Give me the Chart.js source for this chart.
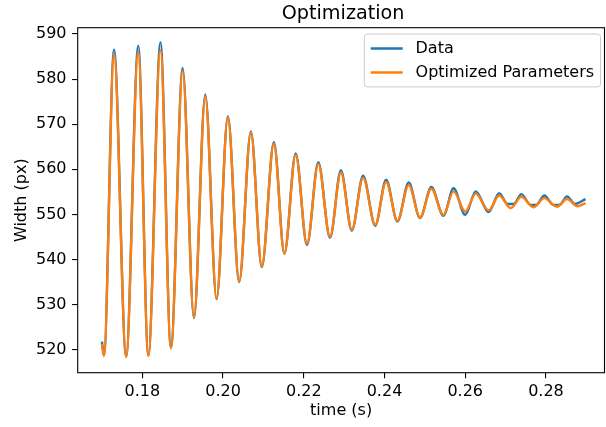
<!DOCTYPE html>
<html>
<head>
<meta charset="utf-8">
<title>Optimization</title>
<script src="https://cdn.jsdelivr.net/npm/chart.js@4.4.0/dist/chart.umd.min.js"></script>
<style>
  body { margin: 0; background: #fff; }
  canvas { display: block; }
</style>
</head>
<body>
<canvas id="optChart" width="606" height="427"></canvas>
<script>
const dataTime = [
  0.1700, 0.1705, 0.1730, 0.1760, 0.1790, 0.1815, 0.1845, 0.1871, 0.1900, 0.1928,
  0.1956, 0.1984, 0.2012, 0.2040, 0.2069, 0.2096, 0.2126, 0.2152, 0.2180, 0.2208,
  0.2236, 0.2265, 0.2292, 0.2319, 0.2347, 0.2377, 0.2404, 0.2432, 0.2460, 0.2488,
  0.2516, 0.2546, 0.2571, 0.2600, 0.2626, 0.2658, 0.2684, 0.2705, 0.2720, 0.2739,
  0.2762, 0.2776, 0.2796, 0.2818, 0.2834, 0.2852, 0.2872, 0.2898
];
const dataWidth = [
  521.8, 518.8, 586.6, 518.5, 587.4, 518.8, 588.2, 520.5, 582.5, 527.0,
  576.6, 531.2, 571.8, 535.0, 568.4, 538.3, 566.0, 541.3, 563.5, 543.2,
  561.6, 544.8, 559.8, 546.4, 558.6, 547.5, 557.7, 548.4, 557.1, 549.2,
  556.1, 549.7, 555.8, 549.9, 555.1, 550.5, 554.7, 552.3, 552.3, 554.5,
  552.1, 552.1, 554.2, 552.1, 552.1, 554.0, 552.3, 553.4
];

// fitted model with the optimized parameters
const fitTime = [
  0.1700, 0.1705, 0.1730, 0.1760, 0.1790, 0.1815, 0.1845, 0.1871, 0.1900, 0.1928,
  0.1956, 0.1984, 0.2012, 0.2040, 0.2069, 0.2096, 0.2126, 0.2152, 0.2180, 0.2208,
  0.2236, 0.2265, 0.2292, 0.2319, 0.2347, 0.2377, 0.2404, 0.2432, 0.2460, 0.2488,
  0.2516, 0.2546, 0.2571, 0.2600, 0.2626, 0.2658, 0.2684, 0.2713, 0.2739, 0.2769,
  0.2796, 0.2827, 0.2852, 0.2878, 0.2898
];
const fitWidth = [
  521.3, 518.6, 585.6, 518.4, 586.0, 518.6, 586.4, 520.3, 581.8, 527.1,
  576.2, 531.3, 571.6, 535.1, 568.2, 538.4, 565.7, 541.4, 563.2, 543.5,
  561.2, 545.0, 559.3, 546.6, 558.1, 547.7, 557.2, 548.6, 556.5, 549.3,
  555.7, 549.9, 555.1, 550.6, 554.6, 550.9, 554.2, 551.4, 553.9, 551.6,
  553.6, 551.7, 553.4, 551.8, 552.5
];

const xTicks = [0.18, 0.20, 0.22, 0.24, 0.26, 0.28];
const yTicks = [520, 530, 540, 550, 560, 570, 580, 590];
const xRange = [0.164, 0.2945];
const yRange = [514.9, 591.4];

const seriesNames = ["Data", "Optimized Parameters"];
const seriesColors = ["#1f77b4", "#ff7f0e"];

Chart.defaults.font.family = "'DejaVu Sans', sans-serif";
Chart.defaults.color = "#000";

const FS = 16; // base font size, px

const toPoints = (xs, ys) => xs.map((x, i) => ({ x: x, y: ys[i] }));

// frame, title, axis labels and legend drawn like matplotlib
const decorations = {
  id: "decorations",
  afterDraw(chart) {
    const { ctx, chartArea: a } = chart;
    ctx.save();

    ctx.strokeStyle = "#000";
    ctx.lineWidth = 1.1;
    ctx.strokeRect(a.left, a.top, a.right - a.left, a.bottom - a.top);

    ctx.fillStyle = "#000";
    ctx.textAlign = "center";
    ctx.textBaseline = "alphabetic";
    ctx.font = "19.2px 'DejaVu Sans'";
    ctx.fillText("Optimization", (a.left + a.right) / 2 + 2, 19);

    ctx.font = FS + "px 'DejaVu Sans'";
    ctx.textBaseline = "middle";
    ctx.fillText("time (s)", (a.left + a.right) / 2, 411);

    ctx.save();
    ctx.translate(22, (a.top + a.bottom) / 2);
    ctx.rotate(-Math.PI / 2);
    ctx.fillText("Width (px)", 0, 0);
    ctx.restore();

    // legend
    const pad = 0.4 * FS, handle = 2 * FS, gap = 0.8 * FS, rowH = FS, rowGap = 0.5 * FS;
    const textW = Math.max(...seriesNames.map(n => ctx.measureText(n).width));
    const w = pad * 2 + handle + gap + textW;
    const h = pad * 2 + rowH * 2 + rowGap;
    const right = a.right - 4;
    const left = right - w;
    const top = a.top + 0.4 * FS;
    ctx.beginPath();
    ctx.roundRect(left, top, w, h, 3);
    ctx.fillStyle = "rgba(255,255,255,0.8)";
    ctx.fill();
    ctx.strokeStyle = "#cccccc";
    ctx.lineWidth = 1;
    ctx.stroke();
    seriesNames.forEach((name, i) => {
      const cy = top + pad + rowH / 2 + i * (rowH + rowGap);
      ctx.strokeStyle = seriesColors[i];
      ctx.lineWidth = 2.4;
      ctx.beginPath();
      ctx.moveTo(left + pad, cy);
      ctx.lineTo(left + pad + handle, cy);
      ctx.stroke();
      ctx.fillStyle = "#000";
      ctx.textAlign = "left";
      ctx.fillText(name, left + pad + handle + gap, cy);
    });

    ctx.restore();
  }
};

const tickFont = { size: FS };
const tickGrid = { drawOnChartArea: false, drawTicks: true, tickLength: 5.6, color: "#000", lineWidth: 1.1 };

new Chart(document.getElementById("optChart"), {
  type: "line",
  data: {
    datasets: [
      {
        label: seriesNames[0],
        data: toPoints(dataTime, dataWidth),
        borderColor: seriesColors[0],
        borderWidth: 2.4,
        pointRadius: 0,
        cubicInterpolationMode: "monotone",
        fill: false,
        order: 1
      },
      {
        label: seriesNames[1],
        data: toPoints(fitTime, fitWidth),
        borderColor: seriesColors[1],
        borderWidth: 2.4,
        pointRadius: 0,
        cubicInterpolationMode: "monotone",
        fill: false,
        order: 0
      }
    ]
  },
  options: {
    responsive: false,
    animation: false,
    events: [],
    layout: { padding: { left: 0, right: 1.5, top: 27.7, bottom: 0 } },
    plugins: {
      legend: { display: false },
      title: { display: false },
      tooltip: { enabled: false }
    },
    scales: {
      x: {
        type: "linear",
        min: xRange[0],
        max: xRange[1],
        afterBuildTicks: s => { s.ticks = xTicks.map(v => ({ value: v })); },
        afterFit: s => { s.height = 427 - 372.7; },
        ticks: {
          font: tickFont,
          color: "#000",
          padding: 4,
          maxRotation: 0,
          autoSkip: false,
          callback: v => Number(v).toFixed(2)
        },
        grid: tickGrid,
        border: { display: false }
      },
      y: {
        type: "linear",
        min: yRange[0],
        max: yRange[1],
        afterBuildTicks: s => { s.ticks = yTicks.map(v => ({ value: v })); },
        afterFit: s => { s.width = 77.7; },
        ticks: {
          font: tickFont,
          color: "#000",
          padding: 5.6,
          autoSkip: false,
          callback: v => String(v)
        },
        grid: tickGrid,
        border: { display: false }
      }
    }
  },
  plugins: [decorations]
});
</script>
</body>
</html>
